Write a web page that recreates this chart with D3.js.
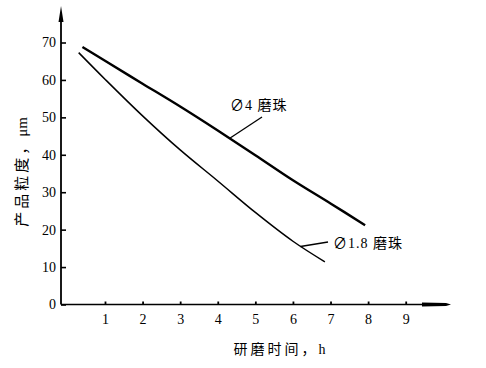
<!DOCTYPE html>
<html><head><meta charset="utf-8">
<script src="https://cdn.jsdelivr.net/npm/d3@7"></script>
<style>
body{margin:0;background:#fff;}
text{font-family:"Liberation Serif","Noto Sans CJK SC",serif;}
</style></head>
<body>
<svg id="c" width="486" height="368"></svg>
<script>
const xTicks = [1,2,3,4,5,6,7,8,9];
const yTicks = [0,10,20,30,40,50,60,70];
const s4 = [[0.4,68.8],[1,65.1],[2,59.0],[3,52.9],[4,46.5],[5,39.9],[6,33.2],[7,27.0],[7.92,21.2]];
const s18 = [[0.3,67.3],[1,60.2],[2,50.4],[3,41.3],[4,33.0],[5,24.6],[6,16.9],[6.85,11.4]];
const seriesNames = ["\u22054 磨珠","\u22051.8 磨珠"];
const xTitle = "研磨时间，h";
const yTitleCJK = "产品粒度，";
const yTitleUnit = "μm";

const FONT = '"Liberation Serif","Noto Sans CJK SC",serif';
const svg = d3.select("#c");
const x = d3.scaleLinear().domain([0,9]).range([67.4,405.7]);
const y = d3.scaleLinear().domain([0,70]).range([304.5,42.5]);
const ax = 61;

// axes
const ga = svg.append("g").attr("transform",`translate(${ax},0)`)
  .call(d3.axisLeft(y).tickValues(yTicks).tickSizeInner(-5).tickSizeOuter(0).tickPadding(5))
  .attr("font-family",FONT);
ga.select(".domain").remove();
ga.selectAll("line").attr("stroke","#000").attr("stroke-width",1.6);
ga.selectAll("text").attr("font-size",14).attr("fill","#000");

const gx = svg.append("g").attr("transform",`translate(0,${y(0)})`)
  .call(d3.axisBottom(x).tickValues(xTicks).tickSizeInner(-3).tickSizeOuter(0).tickPadding(10))
  .attr("font-family",FONT);
gx.select(".domain").remove();
gx.selectAll("line").attr("stroke","#000").attr("stroke-width",1.8);
gx.selectAll("text").attr("font-size",14).attr("fill","#000");

// axis lines with arrows
svg.append("line").attr("x1",ax).attr("y1",y(0)).attr("x2",ax).attr("y2",14).attr("stroke","#000").attr("stroke-width",1.8);
svg.append("path").attr("d",`M${ax},6 L${ax-2.5},22 L${ax+2.5},22 Z`).attr("fill","#000");
svg.append("line").attr("x1",ax).attr("y1",y(0)).attr("x2",440).attr("y2",y(0)).attr("stroke","#000").attr("stroke-width",1.6);
svg.append("path").attr("d",`M422,${y(0)-2} L446,${y(0)-1.5} L451,${y(0)} L446,${y(0)+1.5} L422,${y(0)+2} Z`).attr("fill","#000");

// curves
const line = d3.line().x(d=>x(d[0])).y(d=>y(d[1])).curve(d3.curveCatmullRom);
svg.append("path").datum(s4).attr("d",line).attr("fill","none").attr("stroke","#000").attr("stroke-width",2.4);
svg.append("path").datum(s18).attr("d",line).attr("fill","none").attr("stroke","#000").attr("stroke-width",1.5);

// labels & leaders
svg.append("line").attr("x1",x(4.32)).attr("y1",y(44.4)).attr("x2",262).attr("y2",117).attr("stroke","#000").attr("stroke-width",1.3);
svg.append("text").attr("x",230).attr("y",110).attr("font-size",14).attr("letter-spacing",1).text(seriesNames[0]);
svg.append("line").attr("x1",x(6.2)).attr("y1",y(15.5)).attr("x2",328).attr("y2",242).attr("stroke","#000").attr("stroke-width",1.3);
svg.append("text").attr("x",333).attr("y",248).attr("font-size",14).attr("letter-spacing",1).text(seriesNames[1]);

// titles
svg.append("text").attr("x",281).attr("y",354).attr("text-anchor","middle").attr("font-size",14).attr("letter-spacing",3).text(xTitle);
const yt = svg.append("text").attr("transform","translate(27,172) rotate(-90)").attr("text-anchor","middle").attr("font-size",15);
yt.append("tspan").attr("letter-spacing",3).text(yTitleCJK);
yt.append("tspan").text(yTitleUnit);
</script>
</body></html>
